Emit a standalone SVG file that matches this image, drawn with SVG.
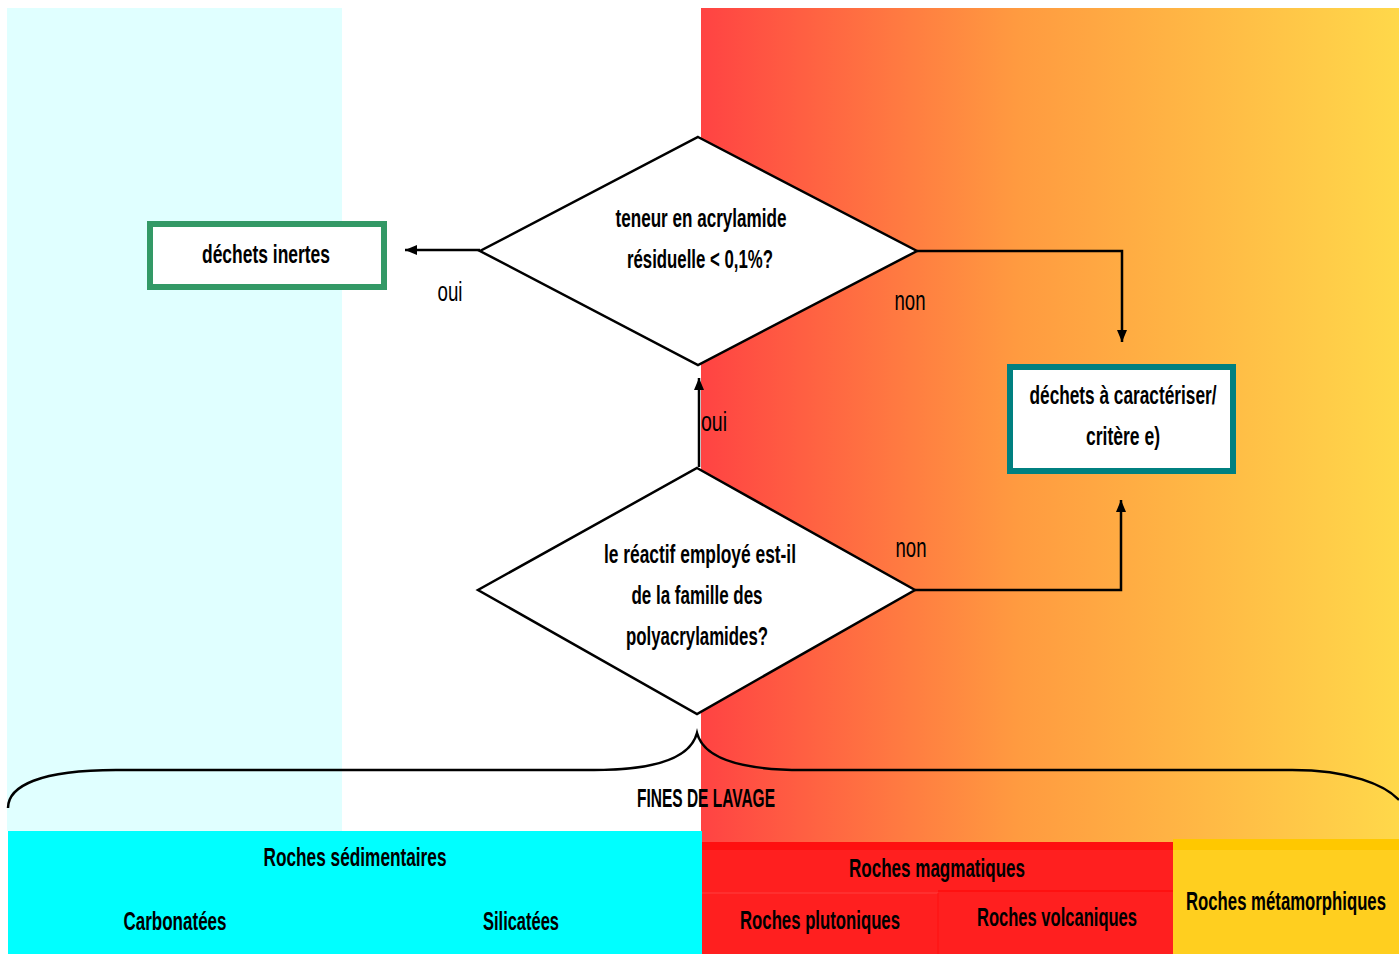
<svg xmlns="http://www.w3.org/2000/svg" width="1399" height="954" viewBox="0 0 1399 954">
<style>
.t{font-family:"Liberation Sans",Arial,sans-serif;font-weight:bold;font-size:26px;fill:#000;text-anchor:middle}
.l{font-family:"Liberation Sans",Arial,sans-serif;font-size:27px;fill:#000;text-anchor:middle}
.d{fill:#fff;stroke:#000;stroke-width:2.5}
.c{fill:none;stroke:#000;stroke-width:2.5}
</style>
<defs>
<linearGradient id="g" x1="0" y1="0" x2="1" y2="0">
<stop offset="0" stop-color="#FF4343"/>
<stop offset="0.45" stop-color="#FF9A40"/>
<stop offset="1" stop-color="#FFD84A"/>
</linearGradient>
<marker id="a" viewBox="0 0 12 10" refX="12" refY="5" markerWidth="12" markerHeight="10" orient="auto" markerUnits="userSpaceOnUse">
<path d="M0,0 L12,5 L0,10 z" fill="#000"/>
</marker>
</defs>
<rect width="1399" height="954" fill="#fff"/>
<g id="background">
<rect x="7" y="8" width="335" height="823" fill="#E0FFFF"/>
<rect x="701" y="8" width="698" height="946" fill="url(#g)"/>
</g>
<g id="bands">
<rect x="8" y="831" width="694" height="123" fill="#00FFFF"/>
<rect x="702" y="842" width="471" height="112" fill="#FF1F1F"/>
<rect x="702" y="842" width="471" height="8" fill="#FF1010"/>
<line x1="702" y1="893" x2="938" y2="893" stroke="#FF4040" stroke-width="1"/>
<line x1="938" y1="891" x2="1173" y2="891" stroke="#FF1010" stroke-width="2"/>
<line x1="938" y1="893" x2="938" y2="954" stroke="#FF1010" stroke-width="1"/>
<rect x="1173" y="839" width="226" height="115" fill="#FFCF1F"/>
<rect x="1173" y="839" width="226" height="11" fill="#FFC800"/>
<text class="t" x="355" y="866" textLength="183" lengthAdjust="spacingAndGlyphs">Roches sédimentaires</text>
<text class="t" x="175" y="930" textLength="103" lengthAdjust="spacingAndGlyphs">Carbonatées</text>
<text class="t" x="521" y="930" textLength="76" lengthAdjust="spacingAndGlyphs">Silicatées</text>
<text class="t" x="937" y="877" textLength="176" lengthAdjust="spacingAndGlyphs">Roches magmatiques</text>
<text class="t" x="820" y="929" textLength="160" lengthAdjust="spacingAndGlyphs">Roches plutoniques</text>
<text class="t" x="1057" y="926" textLength="160" lengthAdjust="spacingAndGlyphs">Roches volcaniques</text>
<text class="t" x="1286" y="910" textLength="200" lengthAdjust="spacingAndGlyphs">Roches métamorphiques</text>
</g>
<g id="brace">
<path class="c" stroke-width="3" d="M8,808 C8,786 40,770 116,770 L594,770 C650,770 690,760 697,733 C704,760 744,770 803,770 L1292,770 C1350,770 1385,785 1399,800"/>
<text class="t" x="706" y="807" textLength="138" lengthAdjust="spacingAndGlyphs">FINES DE LAVAGE</text>
</g>
<g id="connectors">
<line class="c" x1="480" y1="250" x2="405" y2="250" stroke-width="3" marker-end="url(#a)"/>
<polyline class="c" points="917,251 1122,251 1122,342" stroke-width="2" marker-end="url(#a)"/>
<polyline class="c" points="915,590 1121,590 1121,500" stroke-width="2" marker-end="url(#a)"/>
<line class="c" x1="699" y1="467" x2="699" y2="378" stroke-width="2" marker-end="url(#a)"/>
<text class="l" x="450" y="301" textLength="25" lengthAdjust="spacingAndGlyphs">oui</text>
<text class="l" x="910" y="310" textLength="31" lengthAdjust="spacingAndGlyphs">non</text>
<text class="l" x="714" y="431" textLength="26" lengthAdjust="spacingAndGlyphs">oui</text>
<text class="l" x="911" y="557" textLength="31" lengthAdjust="spacingAndGlyphs">non</text>
</g>
<g id="q1">
<polygon class="d" points="698,137 917,251 698,365 480,251"/>
<text class="t" x="701" y="227" textLength="171" lengthAdjust="spacingAndGlyphs">teneur en acrylamide</text>
<text class="t" x="700" y="268" textLength="146" lengthAdjust="spacingAndGlyphs">résiduelle &lt; 0,1%?</text>
</g>
<g id="q2">
<polygon class="d" points="697,468 915,590 697,714 478,590"/>
<text class="t" x="700" y="563" textLength="192" lengthAdjust="spacingAndGlyphs">le réactif employé est-il</text>
<text class="t" x="697" y="604" textLength="131" lengthAdjust="spacingAndGlyphs">de la famille des</text>
<text class="t" x="697" y="645" textLength="142" lengthAdjust="spacingAndGlyphs">polyacrylamides?</text>
</g>
<g id="inertes">
<rect x="150" y="224" width="234" height="63" fill="#fff" stroke="#339966" stroke-width="6"/>
<text class="t" x="266" y="263" textLength="128" lengthAdjust="spacingAndGlyphs">déchets inertes</text>
</g>
<g id="caracteriser">
<rect x="1010" y="367" width="223" height="104" fill="#fff" stroke="#008080" stroke-width="6"/>
<text class="t" x="1123" y="404" textLength="187" lengthAdjust="spacingAndGlyphs">déchets à caractériser/</text>
<text class="t" x="1123" y="445" textLength="74" lengthAdjust="spacingAndGlyphs">critère e)</text>
</g>
</svg>
